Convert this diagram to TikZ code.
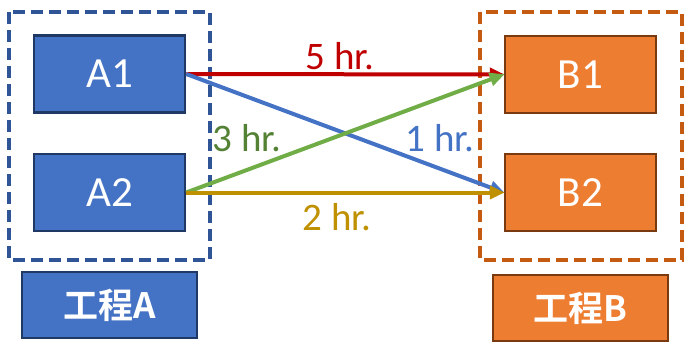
\documentclass[tikz,border=0pt]{standalone}
\usepackage{fontspec}
\setmainfont{Carlito}
\newfontfamily\cjk{Noto Sans CJK JP}[BoldFont={Noto Sans CJK JP Bold}]
\usetikzlibrary{arrows.meta}
\definecolor{procblue}{HTML}{4472C4}
\definecolor{procblueline}{HTML}{1F3864}
\definecolor{procorange}{HTML}{ED7D31}
\definecolor{procorangeline}{HTML}{7A3A10}
\definecolor{grpblue}{HTML}{2F5597}
\definecolor{grporange}{HTML}{C55A11}
\definecolor{linered}{HTML}{C00000}
\definecolor{linegreen}{HTML}{70AD47}
\definecolor{textgreen}{HTML}{548235}
\definecolor{linegold}{HTML}{BF9000}
\tikzset{
  taskA/.style={draw=procblueline, fill=procblue, line width=2.5pt, minimum width=151pt, minimum height=77pt, text=white, font=\fontsize{43}{45}\selectfont},
  taskB/.style={taskA, draw=procorangeline, fill=procorange},
  stageA/.style={taskA, minimum width=175pt, minimum height=66pt, font=\cjk\bfseries\fontsize{35}{37}\selectfont},
  stageB/.style={stageA, draw=procorangeline, fill=procorange},
  group/.style={line width=4pt, dash pattern=on 12pt off 6pt},
  flow/.style={line width=4pt, -{Triangle[length=15pt,width=13pt]}, shorten >=-1pt},
  hrs/.style={font=\fontsize{39}{41}\selectfont}
}
\begin{document}
\begin{tikzpicture}[x=1pt,y=-1pt]
    \useasboundingbox (0,0) rectangle (689,351);
    % dashed groups
    \draw[group, draw=grpblue] (9,12) rectangle (210,260);
    \draw[group, draw=grporange] (480,12) rectangle (682,260);

    % tasks
    \node[taskA] (A1) at (109.5,74) {A1};
    \node[taskA] (A2) at (109.5,192.5) {A2};
    \node[taskB] (B1) at (580.5,74.5) {B1};
    \node[taskB] (B2) at (580.5,192.5) {B2};

    % stage labels
    \node[stageA] (SA) at (109.5,305) {工程A};
    \node[stageB] (SB) at (580.5,308) {工程B};

    % flows
    \draw[flow, linered] (A1.east) -- (B1.west);
    \draw[flow, procblue] (A1.east) -- (B2.west);
    \draw[flow, linegreen] (A2.east) -- (B1.west);
    \draw[flow, linegold] (A2.east) -- (B2.west);

    \node[hrs, text=linered] (t5) at (340,56) {5 hr.};
    \node[hrs, text=textgreen] (t3) at (247,138) {3 hr.};
    \node[hrs, text=procblue] (t1) at (440,138) {1 hr.};
    \node[hrs, text=linegold] (t2) at (337,217) {2 hr.};
\end{tikzpicture}
\end{document}
